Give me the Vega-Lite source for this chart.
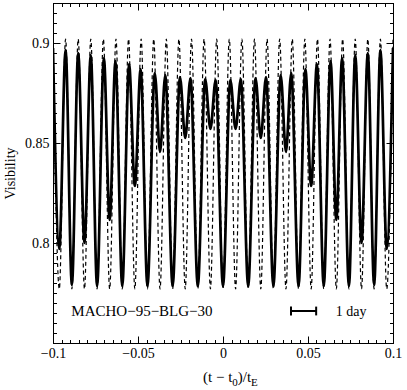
{
  "$schema": "https://vega.github.io/schema/vega-lite/v6.json",
  "width": 340,
  "height": 340,
  "autosize": {"type": "none"},
  "padding": {"left": 53, "top": 3, "right": 14, "bottom": 47},
  "background": "white",
  "config": {
    "view": {"stroke": "black", "strokeWidth": 1},
    "font": "Liberation Serif",
    "style": {
      "guide-label": {"font": "Liberation Serif", "fontSize": 14, "fill": "black"},
      "guide-title": {"font": "Liberation Serif", "fontSize": 14, "fill": "black", "fontWeight": "normal"}
    },
    "axis": {
      "domainColor": "black", "domainWidth": 1, "tickColor": "black", "tickWidth": 1,
      "labelColor": "black", "titleColor": "black",
      "labelFont": "Liberation Serif", "titleFont": "Liberation Serif",
      "labelFontSize": 14, "titleFontSize": 14, "titleFontWeight": "normal",
      "grid": false, "labelFlush": false, "labelOverlap": false
    }
  },
  "datasets": {
    "solid": [
      {"t": -0.1, "v": 0.8975}, {"t": -0.096296, "v": 0.797}, {"t": -0.092593, "v": 0.8965}, {"t": -0.088889, "v": 0.779},
      {"t": -0.085185, "v": 0.895}, {"t": -0.081481, "v": 0.8}, {"t": -0.077778, "v": 0.894}, {"t": -0.074074, "v": 0.7785},
      {"t": -0.07007, "v": 0.8925}, {"t": -0.066667, "v": 0.8115}, {"t": -0.063263, "v": 0.891}, {"t": -0.059259, "v": 0.7785},
      {"t": -0.055256, "v": 0.8895}, {"t": -0.051852, "v": 0.8285}, {"t": -0.048448, "v": 0.887}, {"t": -0.044444, "v": 0.7785},
      {"t": -0.040141, "v": 0.885}, {"t": -0.037037, "v": 0.8455}, {"t": -0.033933, "v": 0.884}, {"t": -0.02963, "v": 0.7785},
      {"t": -0.025326, "v": 0.883}, {"t": -0.022222, "v": 0.8525}, {"t": -0.019119, "v": 0.8825}, {"t": -0.014815, "v": 0.7785},
      {"t": -0.010511, "v": 0.882}, {"t": -0.007407, "v": 0.857}, {"t": -0.004304, "v": 0.8815}, {"t": 0, "v": 0.7785},
      {"t": 0.004304, "v": 0.8815}, {"t": 0.007407, "v": 0.857}, {"t": 0.010511, "v": 0.882}, {"t": 0.014815, "v": 0.7785},
      {"t": 0.019119, "v": 0.8825}, {"t": 0.022222, "v": 0.8525}, {"t": 0.025326, "v": 0.883}, {"t": 0.02963, "v": 0.7785},
      {"t": 0.033933, "v": 0.884}, {"t": 0.037037, "v": 0.8455}, {"t": 0.040141, "v": 0.885}, {"t": 0.044444, "v": 0.7785},
      {"t": 0.048448, "v": 0.887}, {"t": 0.051852, "v": 0.8285}, {"t": 0.055256, "v": 0.8895}, {"t": 0.059259, "v": 0.7785},
      {"t": 0.063263, "v": 0.891}, {"t": 0.066667, "v": 0.8115}, {"t": 0.07007, "v": 0.8925}, {"t": 0.074074, "v": 0.7785},
      {"t": 0.077778, "v": 0.894}, {"t": 0.081481, "v": 0.8}, {"t": 0.085185, "v": 0.895}, {"t": 0.088889, "v": 0.779},
      {"t": 0.092593, "v": 0.8965}, {"t": 0.096296, "v": 0.797}, {"t": 0.1, "v": 0.8975}
    ],
    "dashed": [
      {"t": -0.1, "v": 0.902}, {"t": -0.096296, "v": 0.777}, {"t": -0.092593, "v": 0.902}, {"t": -0.088889, "v": 0.777},
      {"t": -0.085185, "v": 0.902}, {"t": -0.081481, "v": 0.777}, {"t": -0.077778, "v": 0.902}, {"t": -0.074074, "v": 0.777},
      {"t": -0.07037, "v": 0.902}, {"t": -0.066667, "v": 0.777}, {"t": -0.062963, "v": 0.902}, {"t": -0.059259, "v": 0.777},
      {"t": -0.055556, "v": 0.902}, {"t": -0.051852, "v": 0.777}, {"t": -0.048148, "v": 0.902}, {"t": -0.044444, "v": 0.777},
      {"t": -0.040741, "v": 0.902}, {"t": -0.037037, "v": 0.777}, {"t": -0.033333, "v": 0.902}, {"t": -0.02963, "v": 0.777},
      {"t": -0.025926, "v": 0.902}, {"t": -0.022222, "v": 0.777}, {"t": -0.018519, "v": 0.902}, {"t": -0.014815, "v": 0.777},
      {"t": -0.011111, "v": 0.902}, {"t": -0.007407, "v": 0.777}, {"t": -0.003704, "v": 0.902}, {"t": 0, "v": 0.777},
      {"t": 0.003704, "v": 0.902}, {"t": 0.007407, "v": 0.777}, {"t": 0.011111, "v": 0.902}, {"t": 0.014815, "v": 0.777},
      {"t": 0.018519, "v": 0.902}, {"t": 0.022222, "v": 0.777}, {"t": 0.025926, "v": 0.902}, {"t": 0.02963, "v": 0.777},
      {"t": 0.033333, "v": 0.902}, {"t": 0.037037, "v": 0.777}, {"t": 0.040741, "v": 0.902}, {"t": 0.044444, "v": 0.777},
      {"t": 0.048148, "v": 0.902}, {"t": 0.051852, "v": 0.777}, {"t": 0.055556, "v": 0.902}, {"t": 0.059259, "v": 0.777},
      {"t": 0.062963, "v": 0.902}, {"t": 0.066667, "v": 0.777}, {"t": 0.07037, "v": 0.902}, {"t": 0.074074, "v": 0.777},
      {"t": 0.077778, "v": 0.902}, {"t": 0.081481, "v": 0.777}, {"t": 0.085185, "v": 0.902}, {"t": 0.088889, "v": 0.777},
      {"t": 0.092593, "v": 0.902}, {"t": 0.096296, "v": 0.777}, {"t": 0.1, "v": 0.902}
    ]
  },
  "resolve": {"axis": {"x": "independent", "y": "independent"}},
  "layer": [
    {
      "data": {"name": "solid"},
      "mark": {"type": "line", "interpolate": "monotone", "color": "black", "strokeWidth": 2.7, "clip": true},
      "encoding": {
        "x": {"field": "t", "type": "quantitative", "scale": {"domain": [-0.1, 0.1], "nice": false, "zero": false},
          "axis": {"orient": "bottom", "values": [-0.1, -0.05, 0, 0.05, 0.1], "format": ".2~f", "ticks": false, "labelPadding": 3, "title": null,
            "labelFont": "Liberation Serif", "labelFontSize": 14, "labelColor": "black"}},
        "y": {"field": "v", "type": "quantitative", "scale": {"domain": [0.75, 0.92], "nice": false, "zero": false},
          "axis": {"orient": "left", "values": [0.8, 0.85, 0.9], "format": ".2~f", "ticks": false, "labelPadding": 4, "title": "Visibility", "titlePadding": 7,
            "labelFont": "Liberation Serif", "labelFontSize": 14, "labelColor": "black",
            "titleFont": "Liberation Serif", "titleFontSize": 14, "titleFontWeight": "normal", "titleColor": "black"}}
      }
    },
    {
      "data": {"name": "dashed"},
      "mark": {"type": "line", "interpolate": "monotone", "color": "black", "strokeWidth": 1.2, "strokeDash": [4, 3], "clip": true},
      "encoding": {
        "x": {"field": "t", "type": "quantitative", "scale": {"domain": [-0.1, 0.1], "nice": false, "zero": false},
          "axis": {"orient": "top", "values": [-0.1, -0.05, 0, 0.05, 0.1], "labels": false, "tickSize": -7, "title": null}},
        "y": {"field": "v", "type": "quantitative", "scale": {"domain": [0.75, 0.92], "nice": false, "zero": false},
          "axis": {"orient": "right", "values": [0.75, 0.8, 0.85, 0.9], "labels": false, "tickSize": -7, "title": null}}
      }
    },
    {
      "data": {"values": [{"t": -0.0892, "v": 0.76365, "label": "MACHO−95−BLG−30"}]},
      "mark": {"type": "text", "align": "left", "baseline": "alphabetic", "fontSize": 15, "font": "Liberation Serif", "color": "black"},
      "encoding": {
        "x": {"field": "t", "type": "quantitative", "scale": {"domain": [-0.1, 0.1], "nice": false, "zero": false},
          "axis": {"orient": "bottom", "values": [-0.1, -0.05, 0, 0.05, 0.1], "labels": false, "tickSize": -7, "title": null}},
        "y": {"field": "v", "type": "quantitative", "scale": {"domain": [0.75, 0.92], "nice": false, "zero": false},
          "axis": {"orient": "left", "values": [0.75, 0.8, 0.85, 0.9], "labels": false, "tickSize": -7, "title": null}},
        "text": {"field": "label"}
      }
    },
    {
      "data": {"values": [{"t": 0.0663, "v": 0.76365, "label": "1 day"}]},
      "mark": {"type": "text", "align": "left", "baseline": "alphabetic", "fontSize": 14, "font": "Liberation Serif", "color": "black"},
      "encoding": {
        "x": {"field": "t", "type": "quantitative", "scale": {"domain": [-0.1, 0.1], "nice": false, "zero": false},
          "axis": {"orient": "top", "labels": false, "tickSize": -3.5, "title": null,
            "values": [-0.1,-0.095,-0.09,-0.085,-0.08,-0.075,-0.07,-0.065,-0.06,-0.055,-0.05,-0.045,-0.04,-0.035,-0.03,-0.025,-0.02,-0.015,-0.01,-0.005,0,0.005,0.01,0.015,0.02,0.025,0.03,0.035,0.04,0.045,0.05,0.055,0.06,0.065,0.07,0.075,0.08,0.085,0.09,0.095,0.1]}},
        "y": {"field": "v", "type": "quantitative", "scale": {"domain": [0.75, 0.92], "nice": false, "zero": false},
          "axis": {"orient": "right", "labels": false, "tickSize": -3.5, "title": null,
            "values": [0.75,0.755,0.76,0.765,0.77,0.775,0.78,0.785,0.79,0.795,0.8,0.805,0.81,0.815,0.82,0.825,0.83,0.835,0.84,0.845,0.85,0.855,0.86,0.865,0.87,0.875,0.88,0.885,0.89,0.895,0.9,0.905,0.91,0.915,0.92]}},
        "text": {"field": "label"}
      }
    },
    {
      "data": {"values": [
        {"t": 0.04, "t2": 0.0548, "v": 0.766, "v2": 0.766},
        {"t": 0.04, "t2": 0.04, "v": 0.7682, "v2": 0.7638},
        {"t": 0.0548, "t2": 0.0548, "v": 0.7682, "v2": 0.7638}
      ]},
      "mark": {"type": "rule", "color": "black", "strokeWidth": 2},
      "encoding": {
        "x": {"field": "t", "type": "quantitative", "scale": {"domain": [-0.1, 0.1], "nice": false, "zero": false},
          "axis": {"orient": "bottom", "labels": false, "tickSize": -3.5, "title": null,
            "values": [-0.1,-0.095,-0.09,-0.085,-0.08,-0.075,-0.07,-0.065,-0.06,-0.055,-0.05,-0.045,-0.04,-0.035,-0.03,-0.025,-0.02,-0.015,-0.01,-0.005,0,0.005,0.01,0.015,0.02,0.025,0.03,0.035,0.04,0.045,0.05,0.055,0.06,0.065,0.07,0.075,0.08,0.085,0.09,0.095,0.1]}},
        "x2": {"field": "t2"},
        "y": {"field": "v", "type": "quantitative", "scale": {"domain": [0.75, 0.92], "nice": false, "zero": false},
          "axis": {"orient": "left", "labels": false, "tickSize": -3.5, "title": null,
            "values": [0.75,0.755,0.76,0.765,0.77,0.775,0.78,0.785,0.79,0.795,0.8,0.805,0.81,0.815,0.82,0.825,0.83,0.835,0.84,0.845,0.85,0.855,0.86,0.865,0.87,0.875,0.88,0.885,0.89,0.895,0.9,0.905,0.91,0.915,0.92]}},
        "y2": {"field": "v2"}
      }
    },
    {
      "data": {"values": [
        {"t": -0.01176, "v": 0.7305, "label": "(t − t"},
        {"t": 0.00871, "v": 0.7305, "label": ")/t"}
      ]},
      "mark": {"type": "text", "align": "left", "baseline": "alphabetic", "fontSize": 15, "font": "Liberation Serif", "color": "black"},
      "encoding": {
        "x": {"field": "t", "type": "quantitative", "scale": {"domain": [-0.1, 0.1], "nice": false, "zero": false}, "axis": null},
        "y": {"field": "v", "type": "quantitative", "scale": {"domain": [0.75, 0.92], "nice": false, "zero": false}, "axis": null},
        "text": {"field": "label"}
      }
    },
    {
      "data": {"values": [
        {"t": 0.00547, "v": 0.7285, "label": "0"},
        {"t": 0.01653, "v": 0.7285, "label": "E"}
      ]},
      "mark": {"type": "text", "align": "left", "baseline": "alphabetic", "fontSize": 11, "font": "Liberation Serif", "color": "black"},
      "encoding": {
        "x": {"field": "t", "type": "quantitative", "scale": {"domain": [-0.1, 0.1], "nice": false, "zero": false}, "axis": null},
        "y": {"field": "v", "type": "quantitative", "scale": {"domain": [0.75, 0.92], "nice": false, "zero": false}, "axis": null},
        "text": {"field": "label"}
      }
    }
  ]
}
